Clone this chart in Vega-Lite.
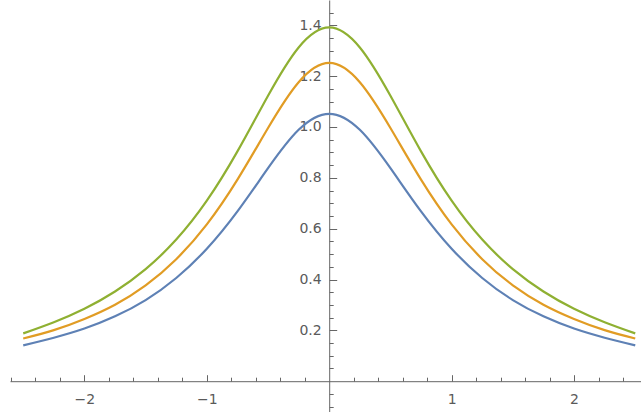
{
  "$schema": "https://vega.github.io/schema/vega-lite/v6.json",
  "width": 631,
  "height": 412,
  "autosize": "none",
  "padding": {"left": 10, "top": 0, "right": 0, "bottom": 0},
  "background": "white",
  "config": {
    "view": {"stroke": null},
    "axis": {
      "domainColor": "#666666",
      "tickColor": "#666666",
      "labelColor": "#5a5a5a",
      "labelFont": "DejaVu Sans",
      "labelFontSize": 14,
      "grid": false,
      "title": null
    }
  },
  "data": {
    "values": [
      {"x": -2.5, "f1": 0.141, "f2": 0.168, "f3": 0.188},
      {"x": -2.25, "f1": 0.171, "f2": 0.201, "f3": 0.232},
      {"x": -2.0, "f1": 0.207, "f2": 0.245, "f3": 0.285},
      {"x": -1.75, "f1": 0.255, "f2": 0.301, "f3": 0.353},
      {"x": -1.5, "f1": 0.319, "f2": 0.377, "f3": 0.441},
      {"x": -1.25, "f1": 0.406, "f2": 0.480, "f3": 0.557},
      {"x": -1.0, "f1": 0.521, "f2": 0.617, "f3": 0.710},
      {"x": -0.75, "f1": 0.668, "f2": 0.793, "f3": 0.904},
      {"x": -0.5, "f1": 0.838, "f2": 0.996, "f3": 1.123},
      {"x": -0.25, "f1": 0.989, "f2": 1.176, "f3": 1.313},
      {"x": 0.0, "f1": 1.052, "f2": 1.252, "f3": 1.392},
      {"x": 0.25, "f1": 0.989, "f2": 1.176, "f3": 1.313},
      {"x": 0.5, "f1": 0.838, "f2": 0.996, "f3": 1.123},
      {"x": 0.75, "f1": 0.668, "f2": 0.793, "f3": 0.904},
      {"x": 1.0, "f1": 0.521, "f2": 0.617, "f3": 0.710},
      {"x": 1.25, "f1": 0.406, "f2": 0.480, "f3": 0.557},
      {"x": 1.5, "f1": 0.319, "f2": 0.377, "f3": 0.441},
      {"x": 1.75, "f1": 0.255, "f2": 0.301, "f3": 0.353},
      {"x": 2.0, "f1": 0.207, "f2": 0.245, "f3": 0.285},
      {"x": 2.25, "f1": 0.171, "f2": 0.201, "f3": 0.232},
      {"x": 2.5, "f1": 0.141, "f2": 0.168, "f3": 0.188}
    ]
  },
  "transform": [{"fold": ["f1", "f2", "f3"], "as": ["series", "y"]}],
  "resolve": {"axis": {"x": "independent", "y": "independent"}},
  "layer": [
    {
      "mark": {"type": "line", "interpolate": "natural", "strokeWidth": 2.2},
      "encoding": {
        "x": {
          "field": "x", "type": "quantitative",
          "scale": {"domain": [-2.608, 2.547], "nice": false, "zero": false},
          "axis": {
            "orient": "bottom", "offset": -30.8,
            "values": [-2, -1, 1, 2], "format": "d",
            "tickSize": -6.5, "tickWidth": 1, "labelPadding": 17.5, "domainWidth": 1
          }
        },
        "y": {
          "field": "y", "type": "quantitative",
          "scale": {"domain": [-0.1212, 1.4996], "nice": false, "zero": false},
          "axis": {
            "orient": "left", "offset": -319.2,
            "values": [0.2, 0.4, 0.6, 0.8, 1.0, 1.2, 1.4], "format": ".1f",
            "tickSize": -7.5, "tickWidth": 1, "labelPadding": 15.5, "domainWidth": 1
          }
        },
        "color": {
          "field": "series", "type": "nominal",
          "scale": {"domain": ["f1", "f2", "f3"], "range": ["#5E81B5", "#E19C24", "#8FB032"]},
          "legend": null
        }
      }
    },
    {
      "mark": {"type": "line", "opacity": 0, "strokeWidth": 0},
      "encoding": {
        "x": {
          "field": "x", "type": "quantitative",
          "axis": {
            "orient": "bottom", "offset": -30.8, "domain": false, "labels": false,
            "values": [-2.6, -2.4, -2.2, -1.8, -1.6, -1.4, -1.2, -0.8, -0.6, -0.4, -0.2, 0.2, 0.4, 0.6, 0.8, 1.2, 1.4, 1.6, 1.8, 2.2, 2.4],
            "tickSize": -4, "tickWidth": 1
          }
        },
        "y": {
          "field": "y", "type": "quantitative",
          "axis": {
            "orient": "left", "offset": -319.2, "domain": false, "labels": false,
            "values": [-0.1, -0.05, 0.05, 0.1, 0.15, 0.25, 0.3, 0.35, 0.45, 0.5, 0.55, 0.65, 0.7, 0.75, 0.85, 0.9, 0.95, 1.05, 1.1, 1.15, 1.25, 1.3, 1.35, 1.45],
            "tickSize": -4, "tickWidth": 1
          }
        },
        "detail": {"field": "series", "type": "nominal"}
      }
    }
  ]
}
